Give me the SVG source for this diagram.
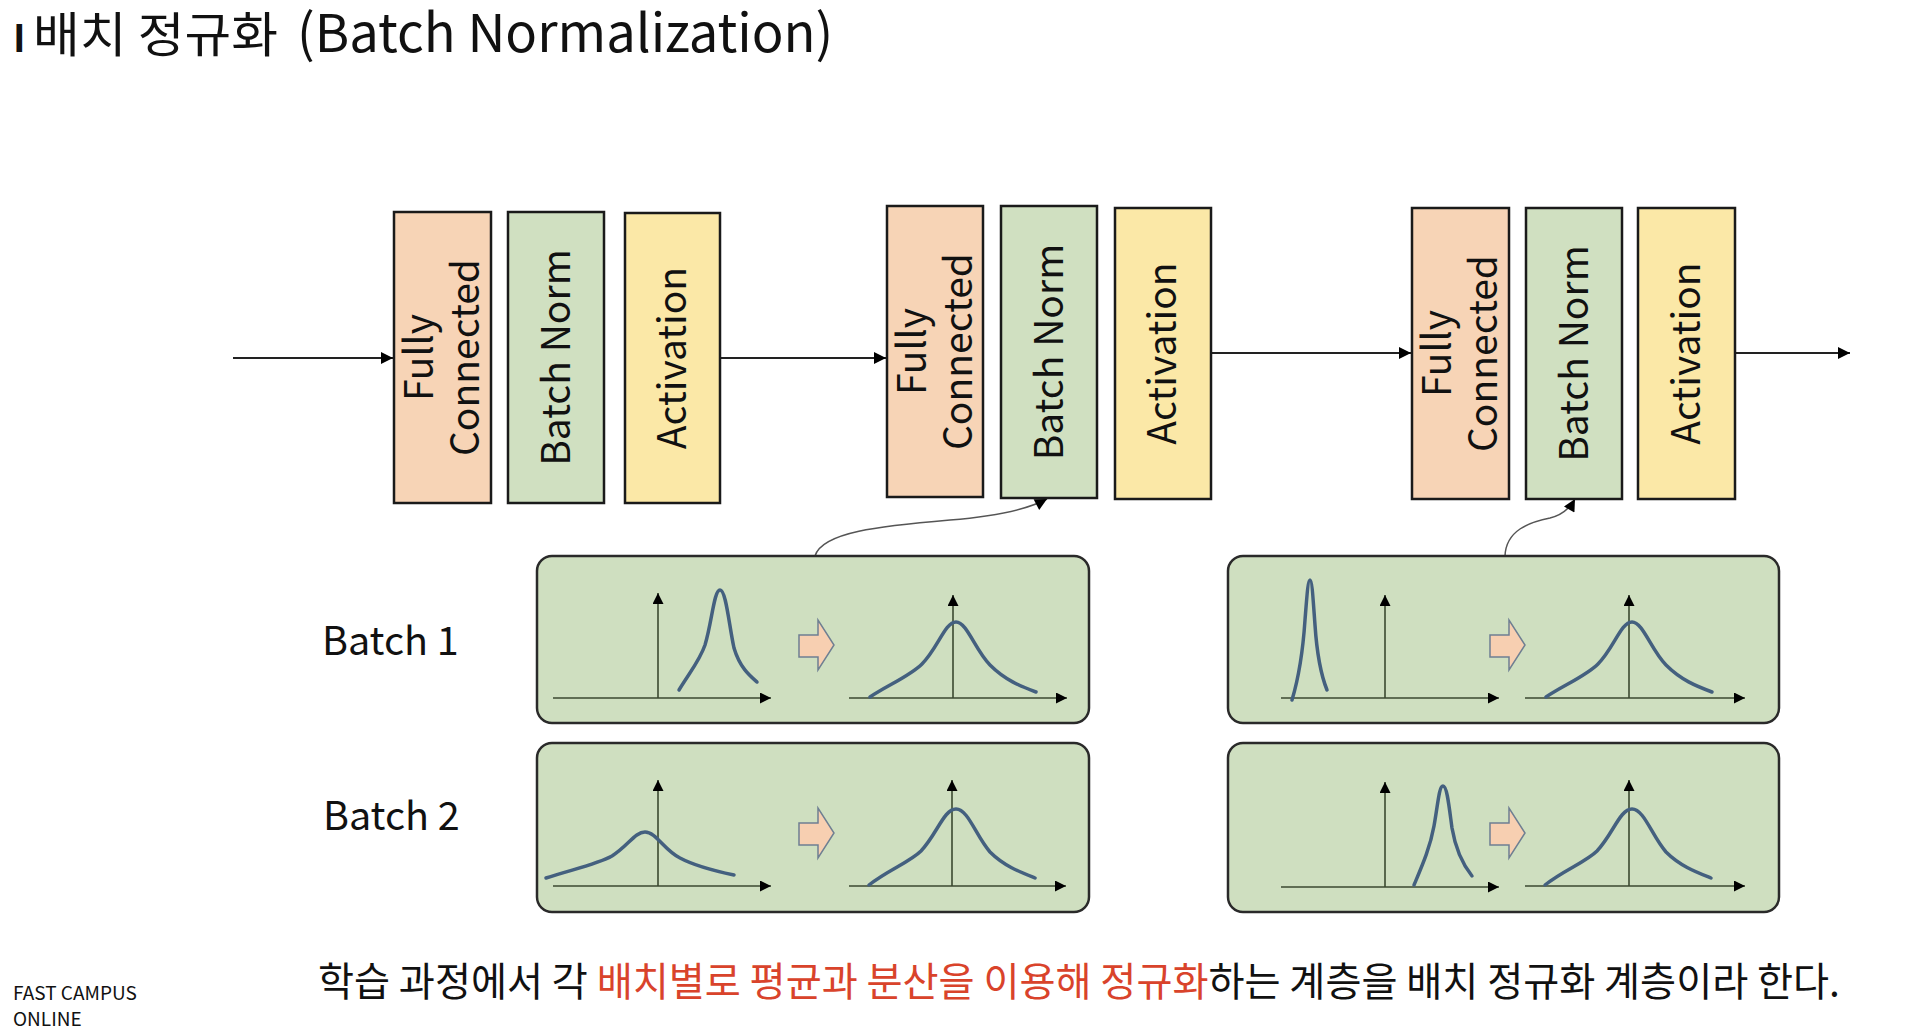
<svg xmlns="http://www.w3.org/2000/svg" width="1932" height="1034" viewBox="0 0 1932 1034">
<style>
text { font-family: "Noto Sans CJK KR", "Noto Sans", sans-serif; fill: #111; }
.box { stroke: #1a1a1a; stroke-width: 2.5; }
.fc { fill: #F7D4B6; }
.bn { fill: #D0E0C1; }
.act { fill: #FBE8A7; }
.lbl { font-size: 39px; text-anchor: middle; }
.panel { fill: #CFDFC0; stroke: #2a2a2a; stroke-width: 2.5; }
.axis { stroke: #3B4930; stroke-width: 1.6; fill: none; marker-end: url(#axArr); }
.curve { stroke: #44607F; stroke-width: 3.5; fill: none; stroke-linecap: round; }
.flow { stroke: #222; stroke-width: 2; fill: none; marker-end: url(#arr); }
.link { stroke: #555; stroke-width: 1.5; fill: none; marker-end: url(#arr); }
.barr { fill: #F7CFB1; stroke: #6F7F92; stroke-width: 1.5; }
.batch { font-size: 39.5px; }
</style>
<defs>
<marker id="arr" viewBox="0 0 10 10" refX="10" refY="5" markerUnits="userSpaceOnUse" markerWidth="14" markerHeight="12" orient="auto">
<path d="M0,0 L10,5 L0,10 z" fill="#000"/>
</marker>
<marker id="axArr" viewBox="0 0 10 10" refX="10" refY="5" markerUnits="userSpaceOnUse" markerWidth="13" markerHeight="11" orient="auto">
<path d="M0,0 L10,5 L0,10 z" fill="#000"/>
</marker>
<path id="blockArrow" class="barr" d="M0,15 H19 V0 L35,25 L19,50 V37 H0 Z"/>
</defs>

<rect width="1932" height="1034" fill="#fff"/>

<g id="title">
<text x="13" y="52" font-size="38" font-weight="bold">I</text>
<text x="33" y="52" font-size="48" textLength="245" lengthAdjust="spacingAndGlyphs">배치 정규화</text>
<text x="297" y="52" font-size="52.5">(Batch Normalization)</text>
</g>

<g id="connectors">
<path class="flow" d="M233,358 H393"/>
<path class="flow" d="M720,358 H886"/>
<path class="flow" d="M1211,353 H1411"/>
<path class="flow" d="M1735,353 H1850"/>
<path class="link" d="M815,556 C822,532 880,526 950,520 C1000,516 1030,508 1047,499"/>
<path class="link" d="M1505,556 C1506,530 1530,522 1550,518 C1562,515 1570,508 1575,499"/>
</g>

<g id="fc1">
<rect class="box fc" x="394" y="212" width="97" height="291"/>
<g transform="translate(442.5,357.5) rotate(-90)"><text class="lbl" x="0" y="-9.5">Fully</text><text class="lbl" x="0" y="36.5">Connected</text></g>
</g>
<g id="bn1">
<rect class="box bn" x="508" y="212" width="96" height="291"/>
<g transform="translate(556,357.5) rotate(-90)"><text class="lbl" x="0" y="14">Batch Norm</text></g>
</g>
<g id="act1">
<rect class="box act" x="625" y="213" width="95" height="290"/>
<g transform="translate(672.5,358) rotate(-90)"><text class="lbl" x="0" y="13">Activation</text></g>
</g>

<g id="fc2">
<rect class="box fc" x="887" y="206" width="96" height="291"/>
<g transform="translate(935,351.5) rotate(-90)"><text class="lbl" x="0" y="-9.5">Fully</text><text class="lbl" x="0" y="36.5">Connected</text></g>
</g>
<g id="bn2">
<rect class="box bn" x="1001" y="206" width="96" height="292"/>
<g transform="translate(1049,352) rotate(-90)"><text class="lbl" x="0" y="14">Batch Norm</text></g>
</g>
<g id="act2">
<rect class="box act" x="1115" y="208" width="96" height="291"/>
<g transform="translate(1163,353.5) rotate(-90)"><text class="lbl" x="0" y="13">Activation</text></g>
</g>

<g id="fc3">
<rect class="box fc" x="1412" y="208" width="97" height="291"/>
<g transform="translate(1460.5,353.5) rotate(-90)"><text class="lbl" x="0" y="-9.5">Fully</text><text class="lbl" x="0" y="36.5">Connected</text></g>
</g>
<g id="bn3">
<rect class="box bn" x="1526" y="208" width="96" height="291"/>
<g transform="translate(1574,353.5) rotate(-90)"><text class="lbl" x="0" y="14">Batch Norm</text></g>
</g>
<g id="act3">
<rect class="box act" x="1638" y="208" width="97" height="291"/>
<g transform="translate(1686.5,353.5) rotate(-90)"><text class="lbl" x="0" y="13">Activation</text></g>
</g>

<g id="label-batch1"><text class="batch" x="322" y="655">Batch 1</text></g>
<g id="label-batch2"><text class="batch" x="323" y="830">Batch 2</text></g>

<g id="panel-b1-left">
<rect class="panel" x="537" y="556" width="552" height="167" rx="15"/>
<path class="axis" d="M658,698 V593"/>
<path class="axis" d="M553,698 H771"/>
<path class="curve" d="M679,690 C690,672 700,660 705,645 C712,622 714,590 720,590 C726,590 729,625 734,648 C740,668 750,676 757,682"/>
<use href="#blockArrow" x="799" y="620"/>
<path class="axis" d="M953,698 V595"/>
<path class="axis" d="M849,698 H1067"/>
<path class="curve" d="M870,697 C888,685 910,676 922,664 C938,648 945,622 956,622 C967,622 975,650 990,665 C1005,680 1020,686 1036,692"/>
</g>

<g id="panel-b2-left">
<rect class="panel" x="537" y="743" width="552" height="169" rx="15"/>
<path class="axis" d="M658,886 V780"/>
<path class="axis" d="M553,886 H771"/>
<path class="curve" d="M546,878 C570,870 598,864 612,856 C628,846 635,832 645,832 C656,832 664,850 680,858 C695,866 715,871 734,875"/>
<use href="#blockArrow" x="799" y="808"/>
<path class="axis" d="M952,886 V780"/>
<path class="axis" d="M849,886 H1066"/>
<path class="curve" d="M869,885 C888,870 910,862 921,851 C937,834 944,809 956,809 C968,809 976,836 990,852 C1004,866 1020,872 1035,878"/>
</g>

<g id="panel-b1-right">
<rect class="panel" x="1228" y="556" width="551" height="167" rx="15"/>
<path class="axis" d="M1385,698 V595"/>
<path class="axis" d="M1281,698 H1499"/>
<path class="curve" d="M1292,700 C1298,680 1303,650 1305,620 C1307,595 1308,580 1310,580 C1312,580 1313,598 1315,625 C1317,655 1321,675 1327,690"/>
<use href="#blockArrow" x="1490" y="620"/>
<path class="axis" d="M1629,698 V595"/>
<path class="axis" d="M1525,698 H1745"/>
<path class="curve" d="M1546,697 C1564,685 1586,676 1598,664 C1614,648 1621,622 1632,622 C1643,622 1651,650 1666,665 C1681,680 1696,686 1712,692"/>
</g>

<g id="panel-b2-right">
<rect class="panel" x="1228" y="743" width="551" height="169" rx="15"/>
<path class="axis" d="M1385,887 V782"/>
<path class="axis" d="M1281,887 H1499"/>
<path class="curve" d="M1414,885 C1422,866 1430,848 1434,826 C1438,804 1439,786 1443,786 C1447,786 1449,806 1452,828 C1456,852 1464,866 1472,876"/>
<use href="#blockArrow" x="1490" y="808"/>
<path class="axis" d="M1629,886 V780"/>
<path class="axis" d="M1525,886 H1745"/>
<path class="curve" d="M1545,885 C1564,870 1586,862 1597,851 C1613,834 1620,809 1632,809 C1644,809 1652,836 1666,852 C1680,866 1696,872 1711,878"/>
</g>

<g id="caption">
<text x="318" y="996" font-size="40" textLength="1522" lengthAdjust="spacingAndGlyphs">학습 과정에서 각 <tspan fill="#D9432B">배치별로 평균과 분산을 이용해 정규화</tspan>하는 계층을 배치 정규화 계층이라 한다.</text>
</g>

<g id="footer">
<text x="13" y="1000" font-size="19">FAST CAMPUS</text>
<text x="13" y="1026" font-size="19">ONLINE</text>
</g>
</svg>
